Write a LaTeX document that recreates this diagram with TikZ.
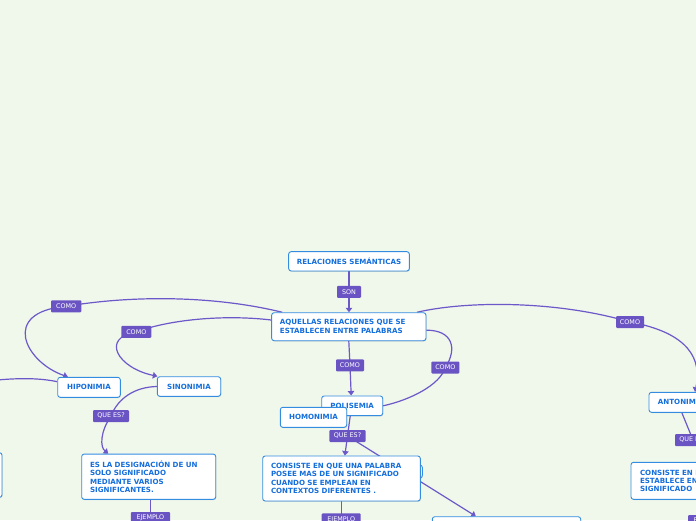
\documentclass[tikz,border=0pt]{standalone}
\usepackage{fontspec}
\setmainfont{DejaVu Sans}
\usetikzlibrary{arrows.meta,shadows,calc}
\pgfdeclarelayer{back}
\pgfdeclarelayer{links}
\pgfsetlayers{back,links,main}
\definecolor{bgc}{RGB}{240,248,236}
\definecolor{bord}{RGB}{52,140,225}
\definecolor{btext}{RGB}{20,110,220}
\definecolor{lab}{RGB}{106,84,196}
\definecolor{conn}{RGB}{108,88,200}
\begin{document}
\begin{tikzpicture}[x=1pt,y=-1pt,
  box/.style={draw=bord, fill=white, line width=0.9pt, rounded corners=2.5pt, text=btext,
    font=\fontsize{7.1}{8.3}\selectfont\bfseries, inner sep=0pt,
    drop shadow={shadow xshift=0.6pt, shadow yshift=-0.8pt, opacity=0.25}},
  mbox/.style={box, align=left, text width=#1, inner xsep=8.3pt},
  lbl/.style={fill=lab, text=white, font=\fontsize{6.4}{7}\selectfont, inner sep=0pt,
    minimum height=12pt, rounded corners=1pt},
  con/.style={draw=conn, line width=1.2pt},
  arr/.style={con, -{Triangle[length=4.5pt,width=6.5pt]}},
]
\useasboundingbox (0,0) rectangle (696,520);
\begin{pgfonlayer}{back}
\fill[bgc] (0,0) rectangle (696,520);
\end{pgfonlayer}

% boxes
\node[box, minimum width=120.7pt, minimum height=19.3pt] (rs) at (349,261.3) {RELACIONES SEMÁNTICAS};
\node[mbox=137.7pt, minimum height=28pt, font=\fontsize{7.1}{9.3}\selectfont\bfseries] (aq) at (348.8,326.7) {AQUELLAS RELACIONES QUE SE\\ESTABLECEN ENTRE PALABRAS};
\node[box, minimum width=62.6pt, minimum height=20pt] (hip) at (89,387.3) {HIPONIMIA};
\node[box, minimum width=63.4pt, minimum height=19.6pt] (sin) at (189,386.5) {SINONIMIA};
\node[mbox=117.4pt, minimum height=45.3pt] (esla) at (148.7,476.7) {ES LA DESIGNACIÓN DE UN\\SOLO SIGNIFICADO\\MEDIANTE VARIOS\\SIGNIFICANTES.};
\node[box, minimum width=100pt, minimum height=44.6pt] (lb) at (-48,475) {};
\node[box, minimum width=61pt, minimum height=19.7pt] (pol) at (352.2,405.8) {POLISEMIA};
\node[box, minimum width=66.4pt, minimum height=20pt] (hom) at (313.5,417.3) {HOMONIMIA};
\node[box, minimum width=92.6pt, minimum height=13pt] (hid) at (376,471.5) {};
\node[mbox=141pt, minimum height=45pt] (cons) at (341.5,478.5) {CONSISTE EN QUE UNA PALABRA\\POSEE MAS DE UN SIGNIFICADO\\CUANDO SE EMPLEAN EN\\CONTEXTOS DIFERENTES .};
\node[box, minimum width=148.4pt, minimum height=20pt] (bb) at (506.5,526.7) {};
\node[box, minimum width=64pt, minimum height=20pt] (ant) at (681,402.3) {ANTONIMIA};
\node[mbox=132pt, minimum height=37pt, inner xsep=9pt] (rc) at (706,480.8) {CONSISTE EN L\\ESTABLECE EN\\SIGNIFICADO};

% labels
\node[lbl, minimum width=24pt] (son) at (349,291.8) {SON};
\node[lbl, minimum width=30.3pt] (como1) at (66.2,306.3) {COMO};
\node[lbl, minimum width=30pt] (como2) at (136.3,331.8) {COMO};
\node[lbl, minimum width=28pt] (como3) at (350,365.3) {COMO};
\node[lbl, minimum width=28pt] (como5) at (445.3,367.5) {COMO};
\node[lbl, minimum width=28pt] (como4) at (630,322) {COMO};
\node[lbl, minimum width=36pt] (qe1) at (111,416) {QUE ES?};
\node[lbl, minimum width=36.4pt] (qe2) at (347.5,436) {QUE ES?};
\node[lbl, minimum width=36pt] (qe3) at (693,440) {QUE ES?};
\node[lbl, minimum width=39.3pt] (ej1) at (150.4,518) {EJEMPLO};
\node[lbl, minimum width=39pt] (ej2) at (341.2,519.3) {EJEMPLO};
\node[lbl, minimum width=39pt] (ej3) at (707.5,521) {EJEMPLO};
\coordinate (le) at (-3,380);

% connectors
\begin{pgfonlayer}{links}
\draw[arr] (rs.south) -- (rs.south |- aq.north);
\draw[con] ($(aq.north west)+(11,0)$) .. controls (220,297) and (140,294) .. (como1.center);
\draw[arr] (como1.center) .. controls (0,312) and (25,362) .. ($(hip.north west)+(10.6,0)$);
\draw[con] ($(aq.west)+(0,-6.7)$) .. controls (230,315) and (175,318) .. (como2.center);
\draw[arr] (como2.center) .. controls (100,338) and (118,368) .. ($(sin.north west)+(0.5,0)$);
\draw[con] ($(hip.west)+(0,-5.6)$) .. controls (40,378) and (20,378) .. (le);
\draw[con] (sin.west) .. controls (135,387) and (118,398) .. (qe1.center);
\draw[arr] (qe1.center) .. controls (100,432) and (100,447) .. ($(esla.north west)+(27,0)$);
\draw[con] (esla.south -| ej1) -- (ej1.center);
\draw[con] (aq.south) -- (como3.center);
\draw[arr] (como3.center) -- ($(pol.north)+(-1,0)$);
\draw[con] ($(aq.east)+(0,3.5)$) .. controls (452,330) and (458,348) .. (como5.center);
\draw[con] (como5.center) .. controls (440,385) and (410,400) .. (pol.east);
\draw[con] ($(pol.south)+(-2,0)$) -- (qe2.center);
\draw[arr] (qe2.center) -- ($(cons.north west)+(82.6,0)$);
\draw[arr] (qe2.center) -- ($(bb.north west)+(44,0)$);
\draw[con] (cons.south -| ej2) -- (ej2.center);
\draw[con] ($(aq.north east)+(-9.3,0)$) .. controls (465,301) and (555,300) .. (como4.center);
\draw[arr] (como4.center) .. controls (690,333) and (702,360) .. ($(ant.north)+(14,0)$);
\draw[con] ($(ant.south west)+(33.3,0)$) -- (qe3.center);
\end{pgfonlayer}
\end{tikzpicture}
\end{document}
